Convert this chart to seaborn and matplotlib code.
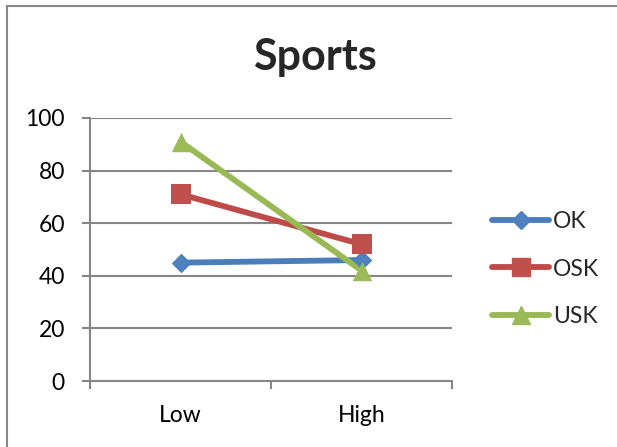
import matplotlib
matplotlib.use("Agg")
import matplotlib.pyplot as plt
import seaborn as sns
import pandas as pd
from matplotlib.patches import Rectangle
from matplotlib.lines import Line2D
from matplotlib.ticker import FixedLocator, NullFormatter

categories = ["Low", "High"]
ok_values = [45, 46]
osk_values = [71, 52]
usk_values = [91, 42]
series_names = ["OK", "OSK", "USK"]
y_ticks = [0, 20, 40, 60, 80, 100]

rows = []
for name, vals in zip(series_names, [ok_values, osk_values, usk_values]):
    for i, (c, v) in enumerate(zip(categories, vals)):
        rows.append({"pos": i, "cat": c, "value": v, "series": name})
df = pd.DataFrame(rows)

sns.set_theme(style="white")
plt.rcParams["font.family"] = ["Lato", "DejaVu Sans"]

line_colors = {"OK": "#4A7EBB", "OSK": "#BE4B48", "USK": "#98B954"}
marker_colors = {"OK": "#4F81BD", "OSK": "#C0504D", "USK": "#9BBB59"}
markers = {"OK": "D", "OSK": "s", "USK": "^"}
msizes = {"OK": 10, "OSK": 14, "USK": 14}

fig = plt.figure(figsize=(6.17, 4.47), dpi=100)
ax = fig.add_axes([90 / 617, 1 - 381 / 447, (452 - 90) / 617, (381 - 118) / 447])

sns.lineplot(data=df, x="pos", y="value", hue="series", palette=line_colors,
             linewidth=4.2, ax=ax, legend=False, sort=False)
for name in series_names:
    sub = df[df["series"] == name]
    sns.scatterplot(data=sub, x="pos", y="value", marker=markers[name],
                    s=msizes[name] ** 2, color=marker_colors[name],
                    edgecolor=marker_colors[name], linewidth=0, ax=ax,
                    zorder=5, legend=False)

ax.set_xlim(-0.5, 1.5)
ax.set_ylim(0, 100)
ax.set_yticks(y_ticks)
ax.set_yticklabels([str(t) for t in y_ticks])
ax.xaxis.set_major_locator(FixedLocator([-0.5, 0.5, 1.5]))
ax.xaxis.set_major_formatter(NullFormatter())
ax.xaxis.set_minor_locator(FixedLocator([0, 1]))
ax.set_xticklabels(categories, minor=True)
ax.set_xlabel("")
ax.set_ylabel("")

grid_c = "#868686"
ax.grid(axis="y", color=grid_c, linewidth=1.5)
ax.set_axisbelow(True)
for side in ["top", "right"]:
    ax.spines[side].set_visible(False)
for side in ["left", "bottom"]:
    ax.spines[side].set_color(grid_c)
    ax.spines[side].set_linewidth(1.5)

ax.tick_params(axis="y", which="major", direction="out", length=6, width=1.5,
               color=grid_c, labelsize=16.5, pad=12, left=True, labelcolor="black")
ax.tick_params(axis="x", which="major", direction="out", length=6, width=1.5,
               color=grid_c, bottom=True)
ax.tick_params(axis="x", which="minor", length=0, labelsize=16.5, pad=17,
               labelcolor="black")

# legend
handles = [Line2D([], [], color=line_colors[n], linewidth=4.2, marker=markers[n],
                  markersize=msizes[n] * 0.9, markerfacecolor=marker_colors[n],
                  markeredgecolor=marker_colors[n]) for n in series_names]
fig.legend(handles, series_names, loc="center left",
           bbox_to_anchor=(492 / 617, 1 - 269 / 447), frameon=False,
           fontsize=16.5, handlelength=2.5, handletextpad=0.15, labelspacing=1.15,
           borderpad=0, borderaxespad=0)

fig.text(314.7 / 617, 1 - 70 / 447, "Sports", ha="center", va="baseline",
         fontsize=31, fontweight="bold")

fig.patches.append(Rectangle((7 / 617, -0.1), 1.2, 1.1 - 6.5 / 447,
                             transform=fig.transFigure, fill=False,
                             edgecolor=grid_c, linewidth=1.5))

fig.savefig("out.png", dpi=100)
